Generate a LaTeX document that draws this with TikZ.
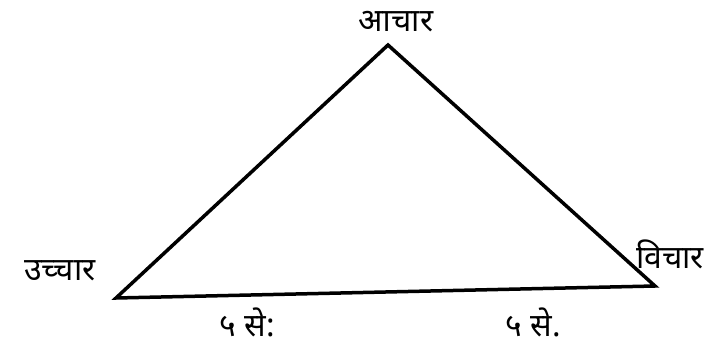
\documentclass[tikz,border=0pt]{standalone}
\usepackage{fontspec}
\newfontfamily\devfont[Script=Devanagari]{Noto Sans}
\begin{document}
\begin{tikzpicture}[x=1pt,y=-1pt,
  lbl/.style={font=\devfont\fontsize{32}{36}\selectfont, inner sep=0pt, anchor=base},
  edge/.style={line width=3.5pt, line join=miter, line cap=round}]
\useasboundingbox (0,0) rectangle (714,345);
\coordinate (L) at (116,298);
\coordinate (T) at (388,45);
\coordinate (R) at (655,286);
\draw[edge] (L) -- (T) -- (R) -- cycle;
\node[lbl] (top) at (396,32) {आचार};
\node[lbl] (left) at (60,280) {उच्चार};
\node[lbl] (right) at (670,268) {विचार};
\node[lbl] (b1) at (247,336) {५ से:};
\node[lbl] (b2) at (533,336) {५ से.};
\end{tikzpicture}
\end{document}
